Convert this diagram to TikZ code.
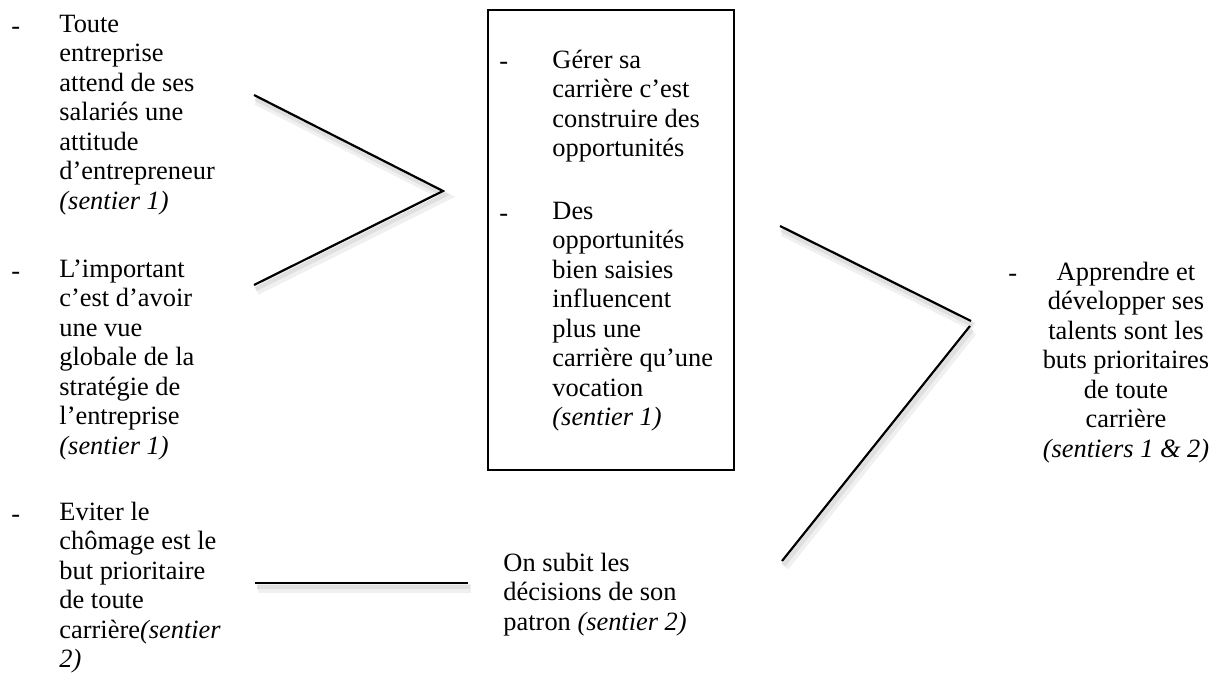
\documentclass[tikz,border=0pt]{standalone}
\usepackage{fontspec}
\setmainfont{Liberation Serif}
\usepackage{tikz}
\usetikzlibrary{fit}

\begin{document}
\begin{tikzpicture}[
  x=0.4545pt, y=-0.4545pt,
  every node/.style={font=\fontsize{12}{13.4}\selectfont, inner sep=0pt},
  txt/.style={anchor=north west, align=left, execute at begin node=\strut},
  tiret/.style={anchor=base west},
  cadre/.style={draw, line width=0.9pt},
  trait/.style={line width=1pt,
    preaction={draw=black!6, line width=4pt, transform canvas={shift={(1.2pt,-2.6pt)}}},
    preaction={draw=black!12, line width=2pt, transform canvas={shift={(0.8pt,-1.8pt)}}}},
]
\useasboundingbox (0,0) rectangle (1219,683);

% Left column
\node[tiret] (d1) at (11,35) {-};
\node[txt] (l1) at (59,14.4) {Toute\\entreprise\\attend de ses\\salariés une\\attitude\\d’entrepreneur\\\textit{(sentier 1)}};
\node[tiret] (d2) at (11,280) {-};
\node[txt] (l2) at (59,259.4) {L’important\\c’est d’avoir\\une vue\\globale de la\\stratégie de\\l’entreprise\\\textit{(sentier 1)}};
\node[tiret] (d3) at (11,522) {-};
\node[txt] (l3) at (59,501.4) {Eviter le\\chômage est le\\but prioritaire\\de toute\\carrière\textit{(sentier}\\\textit{2)}};

% Middle box
\node[cadre, fit={(488,10) (734,470)}] (box) {};
\node[tiret] (d4) at (499,70) {-};
\node[txt] (m1) at (552,49.4) {Gérer sa\\carrière c’est\\construire des\\opportunités};
\node[tiret] (d5) at (499,222) {-};
\node[txt] (m2) at (552,201.4) {Des\\opportunités\\bien saisies\\influencent\\plus une\\carrière qu’une\\vocation\\\textit{(sentier 1)}};
\node[txt] (pat) at (503,552.4) {On subit les\\décisions de son\\patron \textit{(sentier 2)}};

% Right
\node[tiret] (d6) at (1008,282) {-};
\node[txt, anchor=north, align=center] (goal) at (1126,261.4) {Apprendre et\\développer ses\\talents sont les\\buts prioritaires\\de toute\\carrière\\\textit{(sentiers 1 \& 2)}};

% Connectors
\coordinate (c1a) at (254,95);
\coordinate (c1t) at (443,191);
\coordinate (c1b) at (254,285);
\coordinate (c2a) at (780,226);
\coordinate (c2t) at (971,321);
\coordinate (c2u) at (970,326);
\coordinate (c2b) at (782,561);
\coordinate (h1) at (255,583);
\coordinate (h2) at (468,583);
\draw[trait] (c1a) -- (c1t) -- (c1b);
\draw[trait] (c2a) -- (c2t);
\draw[trait] (c2u) -- (c2b);
\draw[trait] (h1) -- (h2);
\end{tikzpicture}
\end{document}
